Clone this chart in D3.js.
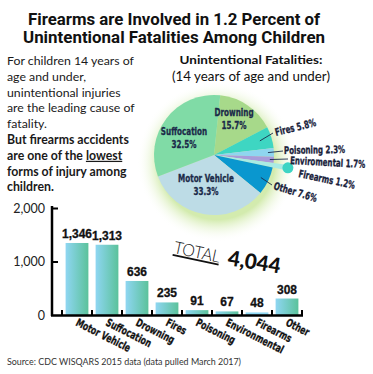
<!DOCTYPE html>
<html>
<head>
<meta charset="utf-8">
<script src="https://cdn.jsdelivr.net/npm/d3@7"></script>
<style>
  body { margin: 0; background: #fff; }
  .narrow { font-family: "Liberation Sans Narrow", "DejaVu Sans Condensed", "Roboto", sans-serif; font-weight: bold; stroke-width: 0.3; }
</style>
</head>
<body>
<div id="chart"></div>
<script>
// datos del gráfico de barras
const categories = ["Motor Vehicle", "Suffocation", "Drowning", "Fires", "Poisoning", "Environmental", "Firearms", "Other"];
const deaths = [1346, 1313, 636, 235, 91, 67, 48, 308];
const yTicks = [0, 1000, 2000];
const totalLabel = "4,044";

// datos del pastel (orden horario desde arriba)
const pieNames = ["Drowning", "Fires", "Poisoning", "Enviromental", "Firearms", "Other", "Motor Vehicle", "Suffocation"];
const piePercents = [15.7, 5.8, 2.3, 1.7, 1.2, 7.6, 33.3, 32.5];

const titleLines = ["Firearms are Involved in 1.2 Percent of", "Unintentional Fatalities Among Children"];
const introLines = ["For children 14 years of", "age and under,", "unintentional injuries", "are the leading cause of", "fatality."];
const boldLines = ["But firearms accidents", "are one of the ", "forms of injury among", "children."];

const w = 373;
const h = 374;

const svg = d3.select("#chart").append("svg").attr("width", w).attr("height", h);
const defs = svg.append("defs");

// no hay fuente condensada: se estrecha con scale(k,1)
const nx = 0.75;

// Título
svg.selectAll(".title")
  .data(titleLines)
  .enter()
  .append("text")
  .attr("x", 174)
  .attr("y", (d, i) => 25 + i * 18)
  .attr("text-anchor", "middle")
  .attr("font-family", "Roboto, sans-serif")
  .attr("font-weight", "bold")
  .attr("font-size", 16.5)
  .attr("textLength", (d, i) => (i === 0 ? 292 : 302))
  .attr("lengthAdjust", "spacingAndGlyphs")
  .attr("fill", "#111")
  .text((d) => d);

// Texto de la izquierda
const intro = svg.append("g").attr("font-family", "Lato, sans-serif").attr("font-size", 12.3).attr("fill", "#1a1a1a");
introLines.forEach((t, i) => {
  intro.append("text").attr("x", 7).attr("y", 65 + i * 15.8).text(t);
});
boldLines.forEach((t, i) => {
  const tx = intro.append("text").attr("x", 7).attr("y", 65 + (i + 5) * 15.8).attr("font-weight", "bold").text(t);
  if (i === 1) tx.append("tspan").attr("text-decoration", "underline").text("lowest");
});

// Pastel
const cx = 214, cy = 155, R = 60;
const pieColors = ["#a7d98a", "#3ed6c2", "#8fd6ef", "#a89cda", "#a9ebe4", "#0a97cf", "#bddce6", "#80dba6"];

const glow = defs.append("radialGradient").attr("id", "glow");
glow.append("stop").attr("offset", "72%").attr("stop-color", "#d3ebae");
glow.append("stop").attr("offset", "100%").attr("stop-color", "#ffffff").attr("stop-opacity", 0);
svg.append("circle").attr("cx", cx + 3).attr("cy", cy + 7).attr("r", 80).attr("fill", "url(#glow)");

svg.append("text").attr("x", 251).attr("y", 64).attr("text-anchor", "middle")
  .attr("font-family", "Lato, sans-serif").attr("font-weight", "bold").attr("font-size", 12)
  .attr("textLength", 143).attr("lengthAdjust", "spacingAndGlyphs").attr("fill", "#111")
  .text("Unintentional Fatalities:");
svg.append("text").attr("x", 251).attr("y", 81).attr("text-anchor", "middle")
  .attr("font-family", "Lato, sans-serif").attr("font-size", 12.5)
  .attr("textLength", 158).attr("lengthAdjust", "spacingAndGlyphs").attr("fill", "#111")
  .text("(14 years of age and under)");

const offset = (6 * Math.PI) / 180;
const pie = d3.pie().sort(null).startAngle(offset).endAngle(offset + 2 * Math.PI);
const slices = pie(piePercents);
const arc = d3.arc().innerRadius(0).outerRadius(R);
const armArc = d3.arc().innerRadius(0).outerRadius(75);

const gPie = svg.append("g").attr("transform", `translate(${cx},${cy})`);
gPie.selectAll("path")
  .data(slices)
  .enter()
  .append("path")
  .attr("d", (d, i) => (pieNames[i] === "Firearms" ? armArc(d) : arc(d)))
  .attr("fill", (d, i) => pieColors[i]);

// la porción de armas sale del pastel y termina en un círculo
const fa = slices[pieNames.indexOf("Firearms")];
const faMid = (fa.startAngle + fa.endAngle) / 2;
gPie.append("circle")
  .attr("cx", 75 * Math.sin(faMid))
  .attr("cy", -75 * Math.cos(faMid))
  .attr("r", 5.5)
  .attr("fill", "#3dd4c4");

// etiquetas dentro
const inside = { Drowning: [20, -39], Suffocation: [-30, -20], "Motor Vehicle": [-8, 27] };
Object.keys(inside).forEach((name) => {
  const i = pieNames.indexOf(name);
  const [dx, dy] = inside[name];
  [name, piePercents[i] + "%"].forEach((line, j) => {
    gPie.append("text")
      .attr("class", "narrow")
      .attr("font-size", 11)
      .attr("fill", "#1b2a49")
      .attr("stroke", "#1b2a49")
      .attr("text-anchor", "middle")
      .attr("transform", `translate(${dx},${dy + j * 12.5}) scale(0.73,1)`)
      .text(line);
  });
});

// etiquetas fuera, con línea guía
const outside = {
  Fires: { from: [48, 0], to: [59, -22], text: [62, -19], rot: -14 },
  Poisoning: { from: [54, 0], to: [69, -4], text: [70, -1], rot: -1 },
  Enviromental: { from: [56, 0], to: [74, 4], text: [76, 9], rot: 3 },
  Firearms: { text: [84, 22], rot: 12 },
  Other: { from: [52, 0], to: [58, 30], text: [59, 34], rot: 17 }
};
Object.keys(outside).forEach((name) => {
  const i = pieNames.indexOf(name);
  const o = outside[name];
  const s = slices[i];
  const m = (s.startAngle + s.endAngle) / 2;
  if (o.from) {
    gPie.append("line")
      .attr("x1", o.from[0] * Math.sin(m))
      .attr("y1", -o.from[0] * Math.cos(m))
      .attr("x2", o.to[0])
      .attr("y2", o.to[1])
      .attr("stroke", "#1b2a49")
      .attr("stroke-width", 0.9);
  }
  gPie.append("text")
    .attr("class", "narrow")
    .attr("font-size", 10.5)
    .attr("fill", "#18213a")
    .attr("stroke", "#18213a")
    .attr("transform", `translate(${o.text[0]},${o.text[1]}) rotate(${o.rot}) scale(${nx},1)`)
    .text(`${name} ${piePercents[i]}%`);
});

// Barras
const xScale = d3.scaleBand().domain(categories).range([62, 302]).paddingInner(0.24).paddingOuter(0.12);
const yScale = d3.scaleLinear().domain([0, 2000]).range([315, 208]);

const grad = defs.append("linearGradient").attr("id", "barGrad");
grad.append("stop").attr("offset", "0%").attr("stop-color", "#8fd6f2");
grad.append("stop").attr("offset", "100%").attr("stop-color", "#5bc29b");

svg.selectAll(".bar")
  .data(deaths)
  .enter()
  .append("rect")
  .attr("class", "bar")
  .attr("x", (d, i) => xScale(categories[i]))
  .attr("y", (d) => yScale(d))
  .attr("width", xScale.bandwidth())
  .attr("height", (d) => yScale(0) - yScale(d))
  .attr("fill", (d, i) => (categories[i] === "Firearms" ? "#8fd8f3" : "url(#barGrad)"));

svg.selectAll(".val")
  .data(deaths)
  .enter()
  .append("text")
  .attr("x", (d, i) => xScale(categories[i]) + xScale.bandwidth() / 2)
  .attr("y", (d) => yScale(d) - 5)
  .attr("text-anchor", "middle")
  .attr("font-family", "Liberation Sans, Arial, sans-serif")
  .attr("font-weight", "bold")
  .attr("font-size", 12)
  .attr("stroke", "#111")
  .attr("stroke-width", 0.3)
  .attr("fill", "#111")
  .text((d) => d3.format(",")(d));

// Eje Y
const yAxis = d3.axisLeft(yScale).tickValues(yTicks).tickFormat(d3.format(",")).tickSizeInner(-6).tickSizeOuter(0).tickPadding(7);
const gy = svg.append("g").attr("transform", "translate(52,0)").call(yAxis);
gy.select(".domain").attr("stroke", "#000").attr("stroke-width", 2.5).attr("d", `M0,${yScale(2000) - 2}V${yScale(0) + 1}`);
gy.selectAll(".tick line").attr("stroke", "#000").attr("stroke-width", 2);
gy.selectAll(".tick text").attr("font-family", "Lato, sans-serif").attr("font-size", 12.5).attr("fill", "#222");
gy.select(".tick:first-of-type line").remove();

// Eje X con marcas entre categorías
const step = xScale.step();
const bounds = categories.map((c) => xScale(c) - step * xScale.paddingOuter());
bounds.push(xScale(categories[categories.length - 1]) + xScale.bandwidth() + step * xScale.paddingOuter());
svg.append("line").attr("x1", 51).attr("x2", bounds[bounds.length - 1] + 1).attr("y1", yScale(0) + 0.5).attr("y2", yScale(0) + 0.5)
  .attr("stroke", "#000").attr("stroke-width", 2.5);
svg.selectAll(".xtick")
  .data(bounds)
  .enter()
  .append("line")
  .attr("x1", (d) => d)
  .attr("x2", (d) => d)
  .attr("y1", yScale(0) - 5)
  .attr("y2", yScale(0))
  .attr("stroke", "#000")
  .attr("stroke-width", 2);

svg.selectAll(".xlab")
  .data(categories)
  .enter()
  .append("text")
  .attr("class", "narrow")
  .attr("font-size", 11)
  .attr("fill", "#111")
  .attr("stroke", "#111")
  .attr("transform", (d) => `translate(${xScale(d) + xScale.bandwidth() / 2 - 2},${yScale(0) + 10}) rotate(27) scale(0.78,1)`)
  .text((d) => d);

// Total
svg.append("text")
  .attr("transform", "translate(173,253) rotate(12)")
  .attr("font-family", "Lato, sans-serif")
  .attr("font-weight", 300)
  .attr("font-size", 17)
  .attr("textLength", 47)
  .attr("lengthAdjust", "spacingAndGlyphs")
  .attr("text-decoration", "underline")
  .attr("fill", "#111")
  .text("TOTAL");
svg.append("text")
  .attr("transform", "translate(227,265) rotate(9)")
  .attr("font-family", "Lato, sans-serif")
  .attr("font-weight", 900)
  .attr("font-size", 21)
  .attr("textLength", 53)
  .attr("lengthAdjust", "spacingAndGlyphs")
  .attr("fill", "#111")
  .text(totalLabel);

// Fuente
svg.append("text")
  .attr("x", 7)
  .attr("y", 365)
  .attr("font-family", "Lato, sans-serif")
  .attr("font-size", 8.5)
  .attr("textLength", 234)
  .attr("lengthAdjust", "spacingAndGlyphs")
  .attr("fill", "#333")
  .text("Source: CDC WISQARS 2015 data (data pulled March 2017)");
</script>
</body>
</html>
